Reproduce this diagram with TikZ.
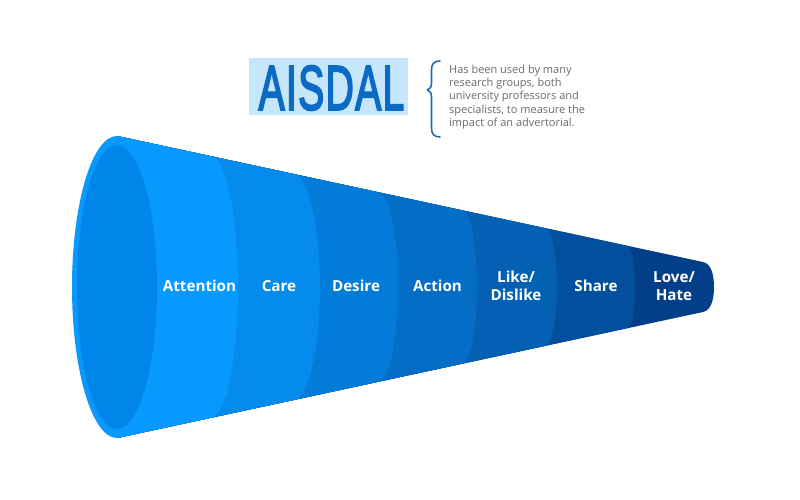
\documentclass[tikz,border=0pt]{standalone}
\usepackage{fontspec}
\setmainfont{Open Sans}
\newfontfamily\titlefont[FakeBold=3.5,LetterSpace=3.5]{Liberation Sans}
\definecolor{cA}{HTML}{0899FF}
\definecolor{cB}{HTML}{048BEC}
\definecolor{cC}{HTML}{037BD8}
\definecolor{cD}{HTML}{046DC5}
\definecolor{cE}{HTML}{0460B2}
\definecolor{cF}{HTML}{024F9E}
\definecolor{cG}{HTML}{023F88}
\definecolor{cInner}{HTML}{0085E8}
\definecolor{cTitle}{HTML}{0B6BC4}
\definecolor{cHi}{HTML}{C6E7FB}
\definecolor{cBrace}{HTML}{1F6BB0}
\definecolor{cNote}{HTML}{6B6B6B}
\tikzset{
  stage/.style={text=white,font=\fontsize{15.2}{18}\selectfont\bfseries,align=center,inner sep=0pt},
  note/.style={text=cNote,font=\fontsize{11}{13.4}\selectfont,align=left,anchor=north west,inner sep=0pt},
  titletext/.style={text=cTitle,font=\fontsize{63}{63}\titlefont,xscale=.62,inner sep=0pt}
}
\begin{document}
\begin{tikzpicture}[x=1pt,y=-1pt]
\useasboundingbox (0,0) rectangle (800,500);
\fill[white] (0,0) rectangle (800,500);
% whole cone, darkest stage
\fill[cG] (117,136) -- (703,262) .. controls (710,263.5) and (714,272) .. (714,287)
  .. controls (714,302) and (710,310.5) .. (703,312) -- (117,438) -- cycle;
% stages, painted from the narrow end towards the wide end
\foreach \xt/\xc/\col in {628/635/cF,545/557/cE,462/477/cD,378/398/cC,293/320/cB,210/238/cA}{
  \pgfmathsetmacro\yt{136+0.2153*(\xt-117)}
  \pgfmathsetmacro\ry{287-\yt}
  \pgfmathsetmacro\rx{\xc-\xt}
  \fill[\col] (117,136) -- (\xt,\yt) arc[start angle=90,end angle=-90,x radius=\rx pt,y radius=\ry pt] -- (117,438) -- cycle;
}
% mouth
\fill[cA] (117,287) ellipse[x radius=45pt,y radius=151pt];
\fill[cInner] (117,287) ellipse[x radius=40pt,y radius=142pt];
% labels
\node[stage] (attention) at (199.5,286) {Attention};
\node[stage] (care) at (279,286) {Care};
\node[stage] (desire) at (356,286) {Desire};
\node[stage] (action) at (437.5,286) {Action};
\node[stage] (like) at (516,286) {Like/\\Dislike};
\node[stage] (share) at (596,286) {Share};
\node[stage] (love) at (674,286) {Love/\\Hate};
% title
\fill[cHi] (249,58) rectangle (408,115);
\node[titletext] (title) at (331.5,88) {AISDAL};
% brace
\draw[cBrace,line width=1.6pt,line cap=round,line join=round]
  (440,61) .. controls (434,61) and (431.5,64) .. (431.5,70)
  -- (431.5,83) .. controls (431.5,87) and (430,89) .. (427.5,90)
  .. controls (430,91) and (431.5,93) .. (431.5,97)
  -- (431.5,128) .. controls (431.5,134) and (434,137) .. (440,137);
% note
\node[note] (notetext) at (449,64.5) {Has been used by many\\research groups, both\\university professors and\\specialists, to measure the\\impact of an advertorial.};
\end{tikzpicture}
\end{document}
